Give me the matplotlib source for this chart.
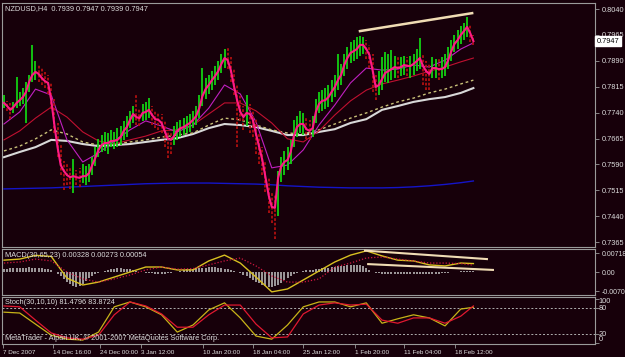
import matplotlib
matplotlib.use('Agg')
import matplotlib.pyplot as plt
import matplotlib.transforms as mtransforms
import numpy as np

# ---------------- data ----------------
closes = [0.7768, 0.7759, 0.7748, 0.7756, 0.7768, 0.7776, 0.7785, 0.7800, 0.7829, 0.7849,
          0.7858, 0.7852, 0.7840, 0.7831, 0.7826, 0.7776, 0.7704, 0.7640, 0.7588, 0.7571,
          0.7559, 0.7553, 0.7556, 0.7553, 0.7551, 0.7556, 0.7556, 0.7565, 0.7588, 0.7609,
          0.7632, 0.7646, 0.7652, 0.7652, 0.7658, 0.7658, 0.7661, 0.7669, 0.7687, 0.7698,
          0.7719, 0.7736, 0.7727, 0.7724, 0.7739, 0.7742, 0.7748, 0.7733, 0.7721, 0.7719,
          0.7710, 0.7687, 0.7664, 0.7661, 0.7672, 0.7687, 0.7695, 0.7698, 0.7704, 0.7710,
          0.7719, 0.7730, 0.7753, 0.7788, 0.7808, 0.7820, 0.7834, 0.7846, 0.7860, 0.7881,
          0.7898, 0.7892, 0.7863, 0.7817, 0.7776, 0.7742, 0.7727, 0.7739, 0.7736, 0.7719,
          0.7678, 0.7640, 0.7603, 0.7553, 0.7501, 0.7467, 0.7464, 0.7551, 0.7585, 0.7597,
          0.7603, 0.7626, 0.7672, 0.7698, 0.7707, 0.7707, 0.7692, 0.7687, 0.7695, 0.7742,
          0.7765, 0.7774, 0.7776, 0.7785, 0.7800, 0.7814, 0.7834, 0.7849, 0.7878, 0.7898,
          0.7913, 0.7918, 0.7924, 0.7936, 0.7936, 0.7924, 0.7907, 0.7863, 0.7814, 0.7820,
          0.7837, 0.7855, 0.7860, 0.7866, 0.7872, 0.7869, 0.7872, 0.7878, 0.7875, 0.7875,
          0.7881, 0.7889, 0.7898, 0.7875, 0.7860, 0.7852, 0.7869, 0.7869, 0.7866, 0.7866,
          0.7872, 0.7892, 0.7918, 0.7939, 0.7950, 0.7965, 0.7976, 0.7988, 0.7970, 0.7947]

highs = [0.7790, 0.7775, 0.7768, 0.7772, 0.7843, 0.7800, 0.7810, 0.7830, 0.7850, 0.7936,
         0.7890, 0.7880, 0.7870, 0.7858, 0.7850, 0.7830, 0.7780, 0.7710, 0.7650, 0.7600,
         0.7590, 0.7580, 0.7605, 0.7575, 0.7580, 0.7590, 0.7585, 0.7590, 0.7610, 0.7640,
         0.7665, 0.7675, 0.7685, 0.7680, 0.7690, 0.7685, 0.7695, 0.7700, 0.7715, 0.7730,
         0.7745, 0.7760, 0.7790, 0.7750, 0.7765, 0.7770, 0.7782, 0.7760, 0.7745, 0.7740,
         0.7735, 0.7715, 0.7690, 0.7685, 0.7700, 0.7712, 0.7720, 0.7725, 0.7730, 0.7735,
         0.7745, 0.7760, 0.7790, 0.7869, 0.7840, 0.7850, 0.7860, 0.7875, 0.7890, 0.7910,
         0.7925, 0.7930, 0.7900, 0.7870, 0.7820, 0.7790, 0.7760, 0.7790, 0.7765, 0.7750,
         0.7725, 0.7680, 0.7640, 0.7600, 0.7550, 0.7510, 0.7500, 0.7570, 0.7610, 0.7630,
         0.7640, 0.7660, 0.7720, 0.7730, 0.7745, 0.7740, 0.7725, 0.7720, 0.7730, 0.7780,
         0.7800, 0.7805, 0.7810, 0.7820, 0.7835, 0.7850, 0.7910, 0.7880, 0.7910, 0.7930,
         0.7945, 0.7950, 0.7960, 0.7962, 0.7958, 0.7950, 0.7935, 0.7910, 0.7850, 0.7860,
         0.7900, 0.7915, 0.7910, 0.7921, 0.7905, 0.7900, 0.7900, 0.7905, 0.7900, 0.7905,
         0.7910, 0.7925, 0.7955, 0.7910, 0.7890, 0.7880, 0.7900, 0.7895, 0.7895, 0.7900,
         0.7910, 0.7930, 0.7950, 0.7965, 0.7980, 0.7990, 0.8000, 0.8017, 0.7995, 0.7965]

lows = [0.7752, 0.7745, 0.7722, 0.7740, 0.7752, 0.7760, 0.7765, 0.7710, 0.7800, 0.7830,
        0.7835, 0.7830, 0.7820, 0.7810, 0.7795, 0.7750, 0.7680, 0.7610, 0.7560, 0.7516,
        0.7530, 0.7520, 0.7507, 0.7530, 0.7525, 0.7535, 0.7530, 0.7540, 0.7560, 0.7585,
        0.7610, 0.7625, 0.7630, 0.7620, 0.7640, 0.7635, 0.7640, 0.7645, 0.7660, 0.7670,
        0.7695, 0.7710, 0.7705, 0.7700, 0.7715, 0.7720, 0.7725, 0.7705, 0.7695, 0.7690,
        0.7680, 0.7640, 0.7608, 0.7620, 0.7645, 0.7660, 0.7670, 0.7675, 0.7680, 0.7685,
        0.7695, 0.7705, 0.7725, 0.7760, 0.7780, 0.7795, 0.7805, 0.7820, 0.7835, 0.7855,
        0.7870, 0.7865, 0.7830, 0.7790, 0.7640, 0.7715, 0.7690, 0.7700, 0.7680, 0.7670,
        0.7620, 0.7590, 0.7560, 0.7510, 0.7450, 0.7420, 0.7374, 0.7440, 0.7540, 0.7560,
        0.7575, 0.7590, 0.7640, 0.7670, 0.7680, 0.7675, 0.7665, 0.7660, 0.7670, 0.7710,
        0.7740, 0.7745, 0.7750, 0.7755, 0.7770, 0.7785, 0.7805, 0.7820, 0.7845, 0.7865,
        0.7885, 0.7890, 0.7895, 0.7905, 0.7910, 0.7895, 0.7870, 0.7800, 0.7776, 0.7790,
        0.7805, 0.7830, 0.7825, 0.7835, 0.7840, 0.7840, 0.7845, 0.7850, 0.7845, 0.7840,
        0.7850, 0.7860, 0.7865, 0.7820, 0.7805, 0.7805, 0.7840, 0.7840, 0.7835, 0.7840,
        0.7845, 0.7865, 0.7890, 0.7915, 0.7925, 0.7940, 0.7950, 0.7960, 0.7945, 0.7935]

# indicator lines sampled every 5 bars
ma_idx = [0, 5, 10, 15, 20, 25, 30, 35, 40, 45, 50, 55, 60, 65, 70, 75, 80, 85, 90, 95,
          100, 105, 110, 115, 120, 125, 130, 135, 140, 145, 149]
ma_magenta = [0.7707, 0.7742, 0.7808, 0.7791, 0.7661, 0.7597, 0.7623, 0.7658, 0.7690, 0.7716,
              0.7701, 0.7684, 0.7704, 0.7753, 0.7820, 0.7794, 0.7713, 0.7580, 0.7588, 0.7632,
              0.7704, 0.7762, 0.7826, 0.7869, 0.7863, 0.7866, 0.7878, 0.7872, 0.7892, 0.7924, 0.7942]
ma_crimson = [0.7661, 0.7687, 0.7724, 0.7756, 0.7727, 0.7684, 0.7658, 0.7649, 0.7661, 0.7672,
              0.7687, 0.7690, 0.7704, 0.7736, 0.7768, 0.7768, 0.7745, 0.7710, 0.7664, 0.7655,
              0.7687, 0.7733, 0.7774, 0.7805, 0.7823, 0.7834, 0.7846, 0.7860, 0.7872, 0.7887, 0.7898]
ma_dashed = [0.7629, 0.7643, 0.7664, 0.7690, 0.7678, 0.7655, 0.7646, 0.7649, 0.7655, 0.7661,
             0.7669, 0.7675, 0.7681, 0.7704, 0.7724, 0.7719, 0.7704, 0.7690, 0.7681, 0.7678,
             0.7690, 0.7707, 0.7724, 0.7739, 0.7756, 0.7771, 0.7782, 0.7797, 0.7808, 0.7823, 0.7834]
ma_white = [0.7611, 0.7626, 0.7640, 0.7661, 0.7658, 0.7649, 0.7643, 0.7646, 0.7649, 0.7655,
            0.7661, 0.7666, 0.7678, 0.7695, 0.7707, 0.7704, 0.7698, 0.7687, 0.7675, 0.7675,
            0.7684, 0.7692, 0.7710, 0.7721, 0.7748, 0.7759, 0.7771, 0.7779, 0.7785, 0.7797, 0.7811]
ma_blue = [0.7519, 0.7520, 0.7521, 0.7522, 0.7524, 0.7526, 0.7528, 0.7530, 0.7532, 0.7534,
           0.7535, 0.7536, 0.7536, 0.7536, 0.7535, 0.7534, 0.7533, 0.7531, 0.7528, 0.7526,
           0.7524, 0.7523, 0.7522, 0.7522, 0.7522, 0.7523, 0.7525, 0.7528, 0.7532, 0.7537, 0.7542]

macd_main = [0.0046, 0.0050, 0.0064, 0.0060, -0.0022, -0.0048, -0.0037, -0.0018, 0.0001, 0.0020,
             0.0020, 0.0009, 0.0009, 0.0043, 0.0065, 0.0035, -0.0018, -0.0074, -0.0063, -0.0029,
             0.0005, 0.0039, 0.0065, 0.0081, 0.0062, 0.0046, 0.0043, 0.0028, 0.0024, 0.0035, 0.0033]
macd_signal = [0.0035, 0.0039, 0.0050, 0.0043, 0.0001, -0.0025, -0.0037, -0.0025, -0.0010, 0.0009,
               0.0020, 0.0012, 0.0014, 0.0028, 0.0043, 0.0054, 0.0024, -0.0014, -0.0037, -0.0037,
               -0.0025, 0.0020, 0.0035, 0.0054, 0.0058, 0.0050, 0.0043, 0.0035, 0.0035, 0.0033, 0.0027]
macd_hist = [0.0013, 0.0014, 0.0015, 0.0016, 0.0016, 0.0017, 0.0018, 0.0018, 0.0019, 0.0018,
             0.0017, 0.0016, 0.0015, 0.0013, 0.0011, 0.0007, 0.0002, -0.0005, -0.0014, -0.0025,
             -0.0036, -0.0045, -0.0052, -0.0055, -0.0053, -0.0045, -0.0034, -0.0022, -0.0013, -0.0006,
             -0.0002, 0.0002, 0.0006, 0.0009, 0.0012, 0.0014, 0.0015, 0.0015, 0.0014, 0.0013,
             0.0011, 0.0009, 0.0006, 0.0003, 0.0001, -0.0001, -0.0002, -0.0004, -0.0005, -0.0006,
             -0.0006, -0.0005, -0.0004, -0.0002, 0.0000, 0.0003, 0.0006, 0.0009, 0.0011, 0.0013,
             0.0014, 0.0015, 0.0016, 0.0017, 0.0018, 0.0019, 0.0019, 0.0019, 0.0018, 0.0016,
             0.0014, 0.0011, 0.0008, 0.0004, 0.0001, -0.0003, -0.0009, -0.0015, -0.0021, -0.0028,
             -0.0035, -0.0041, -0.0047, -0.0051, -0.0054, -0.0055, -0.0053, -0.0047, -0.0039, -0.0030,
             -0.0021, -0.0013, -0.0007, -0.0002, 0.0002, 0.0005, 0.0007, 0.0009, 0.0010, 0.0012,
             0.0013, 0.0015, 0.0016, 0.0018, 0.0019, 0.0021, 0.0022, 0.0024, 0.0025, 0.0026,
             0.0027, 0.0027, 0.0027, 0.0026, 0.0024, 0.0018, 0.0010, 0.0003, -0.0002, -0.0004,
             -0.0005, -0.0005, -0.0005, -0.0005, -0.0005, -0.0006, -0.0006, -0.0006, -0.0006, -0.0006,
             -0.0006, -0.0006, -0.0006, -0.0007, -0.0007, -0.0007, -0.0006, -0.0005, -0.0005, -0.0004,
             -0.0003, -0.0002, 0.0000, 0.0002, 0.0003, 0.0004, 0.0005, 0.0006, 0.0006, 0.0005]

stoch_main = [70, 68, 43, 18, 9, 7, 25, 82, 93, 82, 64, 25, 41, 75, 91, 57, 16, 9, 41, 82,
              93, 93, 82, 91, 45, 55, 64, 57, 39, 77, 81]
stoch_signal = [84, 82, 52, 23, 12, 9, 18, 64, 93, 84, 66, 36, 36, 64, 86, 86, 43, 12, 14, 66,
                86, 91, 86, 88, 52, 45, 57, 57, 45, 61, 84]

# hand-drawn trend lines (bar index, value)
trend_price_idx = [113.0, 148.6]
trend_price_val = [0.7976, 0.8028]
trend_macd1_idx = [114.6, 153.3]
trend_macd1_val = [0.0082, 0.0050]
trend_macd2_idx = [115.6, 155.2]
trend_macd2_val = [0.0031, 0.0009]

price_ticks = [0.8040, 0.7965, 0.7890, 0.7815, 0.7740, 0.7665, 0.7590, 0.7515, 0.7440, 0.7365]
macd_ticks = [0.00718, 0.0, -0.00708]
macd_tick_labels = ['0.00718', '0.00', '-0.00708']
date_idx = [-0.4, 15.5, 30.5, 43.4, 63.1, 79.1, 95.0, 111.4, 127.0, 143.3]
date_labels = ['7 Dec 2007', '14 Dec 16:00', '24 Dec 00:00', '3 Jan 12:00', '10 Jan 20:00',
               '18 Jan 04:00', '25 Jan 12:00', '1 Feb 20:00', '11 Feb 04:00', '18 Feb 12:00']

# ---------------- figure ----------------
BG = '#17000a'
TXT = '#dcdcdc'
EDGE = '#9a9a9a'
FONT = 'Liberation Sans'
FS = 5.3
plt.rcParams['font.family'] = [FONT, 'DejaVu Sans']

W, H = 625, 357
fig = plt.figure(figsize=(W / 100, H / 100), dpi=100, facecolor=BG)


def rect(x0, y0, x1, y1):
    return [x0 / W, 1 - y1 / H, (x1 - x0) / W, (y1 - y0) / H]


ax = fig.add_axes(rect(2, 3, 595, 247))
axm = fig.add_axes(rect(2, 249, 595, 295), sharex=ax)
axs = fig.add_axes(rect(2, 297, 595, 344), sharex=ax)

n = len(closes)
idx = np.arange(n)
xl = (-0.63, 187.6)

for a in (ax, axm, axs):
    a.set_facecolor(BG)
    for s in a.spines.values():
        s.set_color(EDGE)
        s.set_linewidth(0.8)
    a.yaxis.tick_right()
    a.tick_params(axis='y', colors=EDGE, labelcolor=TXT, length=3, width=0.6,
                  labelsize=FS, pad=1.5, direction='out')
    a.tick_params(axis='x', bottom=False, labelbottom=False)
    a.set_xlim(*xl)

# ---- main price panel ----
ax.set_ylim(0.73508, 0.80574)
ax.plot(ma_idx, ma_blue, color='#1414c8', lw=1.0, zorder=2)
ax.plot(ma_idx, ma_white, color='#d8d8d8', lw=1.5, zorder=2)
ax.plot(ma_idx, ma_dashed, color='#c8c078', lw=1.0, dashes=(2, 2), zorder=2)
ax.plot(ma_idx, ma_crimson, color='#c01030', lw=0.8, zorder=2)
ax.plot(ma_idx, ma_magenta, color='#c020c0', lw=0.8, zorder=2)

prev = [closes[0]] + closes[:-1]
up = [i for i in range(n) if closes[i] >= prev[i]]
dn = [i for i in range(n) if closes[i] < prev[i]]
ax.vlines([idx[i] for i in up], [lows[i] for i in up], [highs[i] for i in up],
          color='#12d012', lw=1.3, zorder=3)
ax.vlines([idx[i] for i in dn], [lows[i] for i in dn], [highs[i] for i in dn],
          color='#b01010', lw=1.3, linestyles=(0, (1.5, 1)), zorder=3)
ax.plot(idx, closes, color='#ff1a85', lw=1.5, zorder=4)
ax.plot(trend_price_idx, trend_price_val, color='#f0dcb4', lw=1.8, zorder=5)

ax.set_yticks(price_ticks)
ax.set_yticklabels(['%.4f' % v for v in price_ticks])

blend = mtransforms.blended_transform_factory(ax.transAxes, ax.transData)
ax.text(1.0025, closes[-1], '%.4f' % closes[-1], transform=blend, ha='left', va='center',
        fontsize=FS, color='black', zorder=10,
        bbox=dict(boxstyle='square,pad=0.25', facecolor='white', edgecolor='white'))
ax.text(0.005, 0.977, 'NZDUSD,H4  0.7939 0.7947 0.7939 0.7947', transform=ax.transAxes,
        ha='left', va='center', fontsize=FS, color=TXT)

# ---- MACD panel ----
axm.set_ylim(-0.00858, 0.00881)
axm.vlines(idx, 0, macd_hist, color='#c4c4c4', lw=1.1, zorder=2)
axm.plot(ma_idx, macd_main, color='#d8c020', lw=1.0, zorder=3)
axm.plot(ma_idx, macd_signal, color='#d01840', lw=0.9, dashes=(1, 1.5), zorder=3)
axm.plot(trend_macd1_idx, trend_macd1_val, color='#f0dcb4', lw=1.5, zorder=4)
axm.plot(trend_macd2_idx, trend_macd2_val, color='#f0dcb4', lw=1.5, zorder=4)
axm.set_yticks(macd_ticks)
axm.set_yticklabels(macd_tick_labels)
axm.tick_params(axis='y', labelsize=5.0)
axm.text(0.005, 0.85, 'MACD(30,65,23) 0.00328 0.00273 0.00054', transform=axm.transAxes,
         ha='left', va='center', fontsize=FS, color=TXT)

# ---- Stochastic panel ----
axs.set_ylim(-1.9, 104.2)
axs.axhline(80, color='#b0b0b0', lw=0.7, dashes=(2, 2))
axs.axhline(20, color='#b0b0b0', lw=0.7, dashes=(2, 2))
axs.plot(ma_idx, stoch_main, color='#c8b418', lw=0.9, zorder=3)
axs.plot(ma_idx, stoch_signal, color='#e01830', lw=0.9, zorder=3)
axs.set_yticks([0, 20, 80, 100])
axs.set_yticklabels([])
bs = mtransforms.blended_transform_factory(axs.transAxes, axs.transData)
for val, pos in ((100, 93), (80, 79), (20, 20), (0, 9)):
    axs.text(1.006, pos, str(val), transform=bs, ha='left', va='center', fontsize=FS, color=TXT)
axs.text(0.005, 0.88, 'Stoch(30,10,10) 81.4796 83.8724', transform=axs.transAxes,
         ha='left', va='center', fontsize=FS, color=TXT)
axs.text(0.005, 0.12, 'MetaTrader - Alpari UK, \u00a9 2001-2007 MetaQuotes Software Corp.',
         transform=axs.transAxes, ha='left', va='center', fontsize=FS, color=TXT)

axs.tick_params(axis='x', bottom=True, labelbottom=True, colors=EDGE, labelcolor=TXT,
                length=3, width=0.6, labelsize=4.6, pad=1.5, direction='out')
axs.set_xticks(date_idx)
axs.set_xticklabels(date_labels, ha='left')

fig.savefig('out.png', dpi=100, facecolor=BG)
